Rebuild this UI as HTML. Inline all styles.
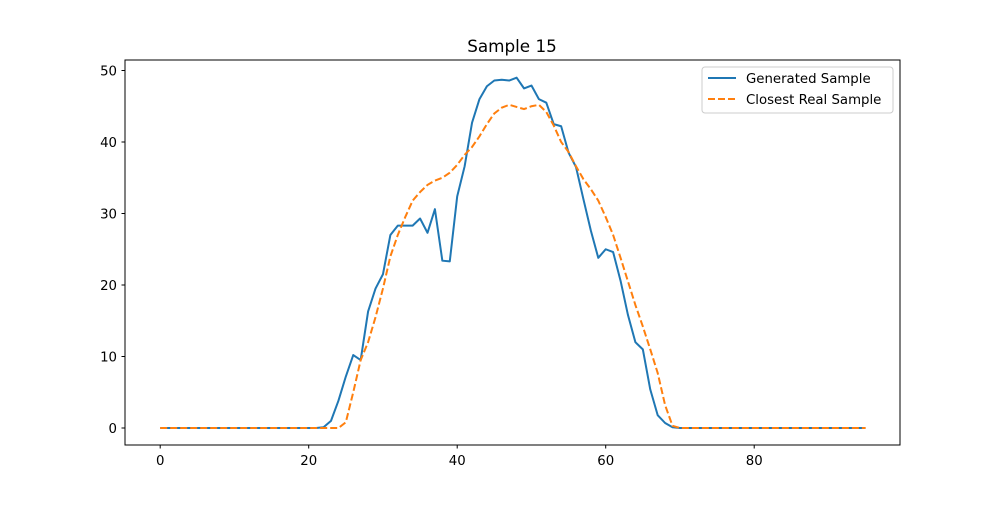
<!DOCTYPE html>
<html><head><meta charset="utf-8"><style>
body{margin:0;background:#fff}
svg text{font-family:"DejaVu Sans","Liberation Sans",sans-serif;fill:#000}
</style></head><body>
<svg id="chart" width="1000" height="500" xmlns="http://www.w3.org/2000/svg">
<rect width="1000" height="500" fill="#fff"/>
<text x="512" y="52" font-size="16.8" text-anchor="middle">Sample 15</text>
<g id="ticks"></g>
<g id="plot"></g>
<rect x="125" y="60" width="775" height="385" fill="none" stroke="#000" stroke-width="1"/>
<g>
<rect x="702" y="67" width="191" height="46" rx="3" fill="#fff" fill-opacity="0.8" stroke="#ccc"/>
<line x1="708" y1="78" x2="736" y2="78" stroke="#1f77b4" stroke-width="2"/>
<text x="746" y="83" font-size="13.3">Generated Sample</text>
<line x1="708" y1="99" x2="736" y2="99" stroke="#ff7f0e" stroke-width="2" stroke-dasharray="7,3"/>
<text x="746" y="104" font-size="13.3">Closest Real Sample</text>
</g>
</svg>
<script>
const generated=[0,0,0,0,0,0,0,0,0,0,0,0,0,0,0,0,0,0,0,0,0,0,0.1,1,3.8,7.2,10.2,9.5,16.3,19.5,21.5,27,28.3,28.3,28.3,29.3,27.3,30.6,23.4,23.3,32.4,36.6,42.7,46,47.8,48.6,48.7,48.6,49,47.5,47.9,46,45.5,42.5,42.2,38.5,36.5,32,27.6,23.8,25,24.6,20.6,15.8,12,11,5.4,1.8,0.7,0.1,0,0,0,0,0,0,0,0,0,0,0,0,0,0,0,0,0,0,0,0,0,0,0,0,0,0];
const realSample=[0,0,0,0,0,0,0,0,0,0,0,0,0,0,0,0,0,0,0,0,0,0,0,0,0,0.8,5,9.5,12,15.5,19.5,24,27,29.5,31.8,33,34,34.6,35,35.7,36.8,38.2,39.3,40.8,42.5,44,44.8,45.2,44.9,44.6,45,45.2,44.2,42.3,40,38.6,36.6,34.8,33.4,31.8,29.5,27,23.8,20.5,17.2,14.2,11,7.7,3.2,0.3,0,0,0,0,0,0,0,0,0,0,0,0,0,0,0,0,0,0,0,0,0,0,0,0,0,0];
const xTicks=[0,20,40,60,80];
const yTicks=[0,10,20,30,40,50];
const NS="http://www.w3.org/2000/svg";
const xs=v=>160.2+v*7.425;
const ys=v=>428-v*7.15;
const tg=document.getElementById('ticks'),pg=document.getElementById('plot');
function mk(tag,attrs,parent){const e=document.createElementNS(NS,tag);for(const k in attrs)e.setAttribute(k,attrs[k]);parent.appendChild(e);return e;}
xTicks.forEach(t=>{
 const l=mk('line',{x1:xs(t),x2:xs(t),y1:445,y2:448.5,stroke:'#000'},tg);
 
 
 const tx=mk('text',{x:xs(t),y:465,'font-size':13.3,'text-anchor':'middle'},tg);tx.textContent=t;
 
 
});
yTicks.forEach(t=>{
 const l=mk('line',{x1:121.5,x2:125,y1:ys(t),y2:ys(t),stroke:'#000'},tg);
 
 
 const tx=mk('text',{x:117,y:ys(t)+5,'font-size':13.3,'text-anchor':'end'},tg);tx.textContent=t;
 
 
});
function path(arr){return arr.map((v,i)=>(i?'L':'M')+xs(i).toFixed(2)+','+ys(v).toFixed(2)).join('');}
const p1=mk('path',{d:path(generated),fill:'none',stroke:'#1f77b4','stroke-width':2,'stroke-linejoin':'round'},pg);


const p2=mk('path',{d:path(realSample),fill:'none',stroke:'#ff7f0e','stroke-width':2,'stroke-dasharray':'7,3'},pg);


</script>
</body></html>
